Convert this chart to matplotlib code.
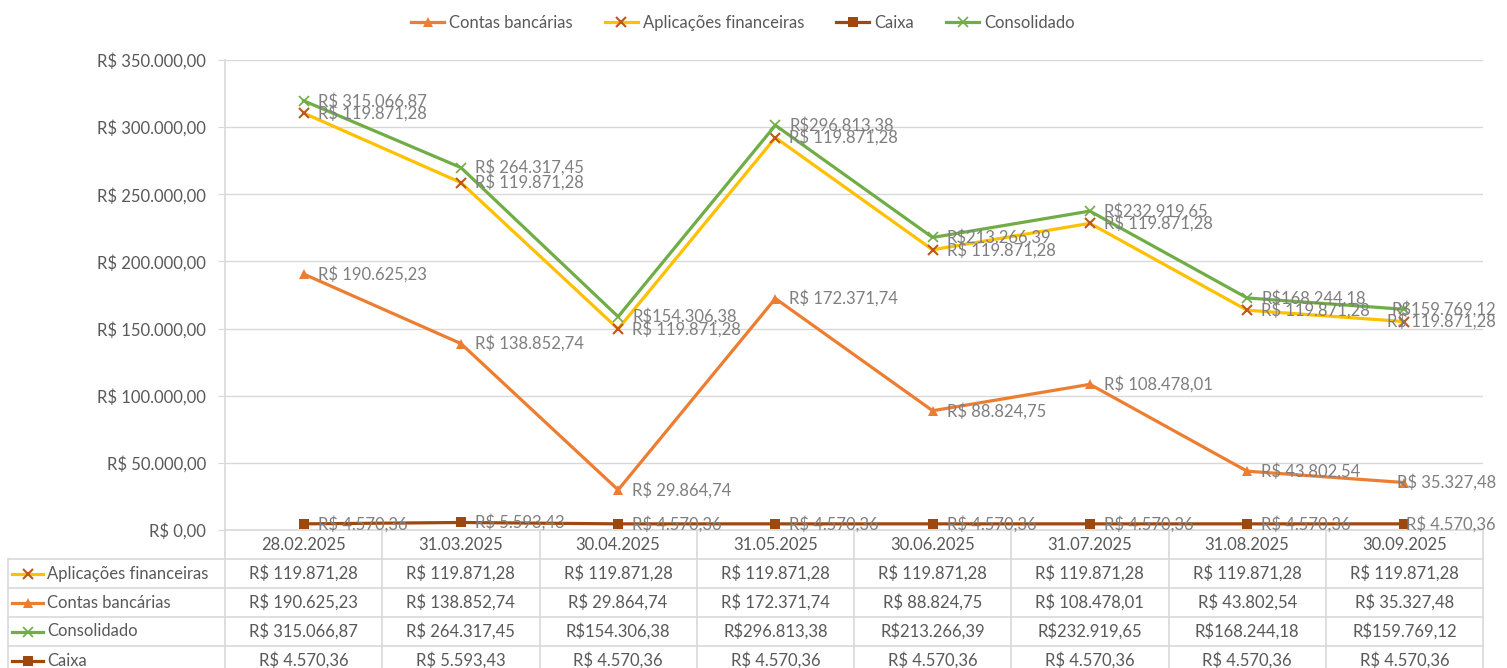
import numpy as np
import matplotlib
matplotlib.use("Agg", force=True)
import matplotlib.pyplot as plt

plt.rcParams['font.family'] = ['Lato', 'DejaVu Sans']

datas = ["28.02.2025", "31.03.2025", "30.04.2025", "31.05.2025",
         "30.06.2025", "31.07.2025", "31.08.2025", "30.09.2025"]
aplicacoes = [119871.28, 119871.28, 119871.28, 119871.28,
              119871.28, 119871.28, 119871.28, 119871.28]
contas = [190625.23, 138852.74, 29864.74, 172371.74,
          88824.75, 108478.01, 43802.54, 35327.48]
consolidado = [315066.87, 264317.45, 154306.38, 296813.38,
               213266.39, 232919.65, 168244.18, 159769.12]
caixa = [4570.36, 5593.43, 4570.36, 4570.36,
         4570.36, 4570.36, 4570.36, 4570.36]
# the source sheet typed some values without the space after "R$"
consol_sep = [" ", " ", "", "", "", "", "", ""]

W, H = 1507, 668
GRID = '#D9D9D9'
TXT = '#595959'
LBL = '#7F7F7F'
c_contas = '#ED7D31'
c_aplic = '#FFC000'
c_aplic_mk = '#C0571A'
c_caixa = '#9E480E'
c_consol = '#70AD47'


def brl(v, sep=" "):
    s = "{:,.2f}".format(v).replace(",", "X").replace(".", ",").replace("X", ".")
    return "R$" + sep + s


# the excel chart stacks these two on top of other series
aplic_plot = np.array(contas) + np.array(aplicacoes)
consol_plot = np.array(consolidado) + np.array(caixa)

fig = plt.figure(figsize=(W / 100, H / 100), dpi=100)

ax = fig.add_axes([225 / W, (H - 530) / H, (1483 - 225) / W, (530 - 60) / H])
x = np.arange(len(datas))

series = [
    ("Contas bancárias", contas, contas, c_contas, '^', c_contas, 7.5, 0),
    ("Aplicações financeiras", aplic_plot, aplicacoes, c_aplic, 'x', c_aplic_mk, 7, 1.5),
    ("Caixa", caixa, caixa, c_caixa, 's', c_caixa, 6.5, 0),
    ("Consolidado", consol_plot, consolidado, c_consol, 'x', c_consol, 7, 1.2),
]
handles = {}
for name, yv, raw, col, mk, mcol, ms, mew in series:
    h, = ax.plot(x, yv, color=col, lw=2.3, marker=mk, ms=ms, mfc=mcol,
                 mec=mcol, mew=mew, label=name, zorder=3)
    handles[name] = h
    for i in range(len(x)):
        sep = consol_sep[i] if name == "Consolidado" else " "
        txt = brl(raw[i], sep)
        if i == len(x) - 1:
            ax.annotate(txt, (x[i], yv[i]), xytext=(66, 0), textcoords='offset points',
                        ha='right', va='center', fontsize=12, color=LBL,
                        annotation_clip=False, zorder=4)
        else:
            ax.annotate(txt, (x[i], yv[i]), xytext=(10, 0), textcoords='offset points',
                        ha='left', va='center', fontsize=12, color=LBL, zorder=4)

ax.set_xlim(-0.5, len(datas) - 0.5)
ax.set_ylim(0, 350000)
ax.set_yticks(np.arange(0, 350001, 50000))
ax.set_yticklabels([brl(v) for v in np.arange(0, 350001, 50000)])
ax.set_xticks([])
ax.grid(axis='y', color=GRID, lw=1)
ax.set_axisbelow(True)
for s in ['top', 'right']:
    ax.spines[s].set_visible(False)
for s in ['left', 'bottom']:
    ax.spines[s].set_color(GRID)
    ax.spines[s].set_linewidth(1.2)
ax.tick_params(axis='y', length=5, color=GRID, labelcolor=TXT, labelsize=12, pad=8.5)
ax.patch.set_alpha(0)

# legend on top
leg_order = ["Contas bancárias", "Aplicações financeiras", "Caixa", "Consolidado"]
fig.legend([handles[n] for n in leg_order], leg_order,
           loc='center', bbox_to_anchor=(0.493, 1 - 23 / H), ncol=4, frameon=False,
           fontsize=12, labelcolor=TXT, handlelength=2.0, columnspacing=1.9,
           handletextpad=0.3)

# data table below the axis, in pixel coordinates
tb = fig.add_axes([0, 0, 1, 1], zorder=-1)
tb.set_xlim(0, W)
tb.set_ylim(H, 0)
tb.axis('off')

col_edges = np.linspace(225, 1483, len(datas) + 1)
centers = (col_edges[:-1] + col_edges[1:]) / 2
row_lines = [559, 588, 617, 646, 675]
for xe in col_edges:
    tb.plot([xe, xe], [530, H], color=GRID, lw=1.2)
tb.plot([8, 8], [559, H], color=GRID, lw=1.2)
for yl in row_lines[:-1]:
    tb.plot([8, 1483], [yl, yl], color=GRID, lw=1.2)

for cx, d in zip(centers, datas):
    tb.text(cx, 545, d, ha='center', va='center', fontsize=12, color=TXT)

rows = [
    ("Aplicações financeiras", aplicacoes, c_aplic, 'x', c_aplic_mk, 7, 1.5, [" "] * 8),
    ("Contas bancárias", contas, c_contas, '^', c_contas, 7.5, 0, [" "] * 8),
    ("Consolidado", consolidado, c_consol, 'x', c_consol, 7, 1.2, consol_sep),
    ("Caixa", caixa, c_caixa, 's', c_caixa, 6.5, 0, [" "] * 8),
]
for r, (name, vals, col, mk, mcol, ms, mew, seps) in enumerate(rows):
    yc = (row_lines[r] + row_lines[r + 1]) / 2
    tb.plot([12, 43], [yc, yc], color=col, lw=2.3)
    tb.plot([27.5], [yc], marker=mk, ms=ms, mfc=mcol, mec=mcol, mew=mew, color=col)
    tb.text(47, yc, name, ha='left', va='center', fontsize=12, color=TXT)
    for cx, v, sp in zip(centers, vals, seps):
        tb.text(cx, yc, brl(v, sp), ha='center', va='center', fontsize=12, color=TXT)

fig.savefig("out.png", dpi=100)
